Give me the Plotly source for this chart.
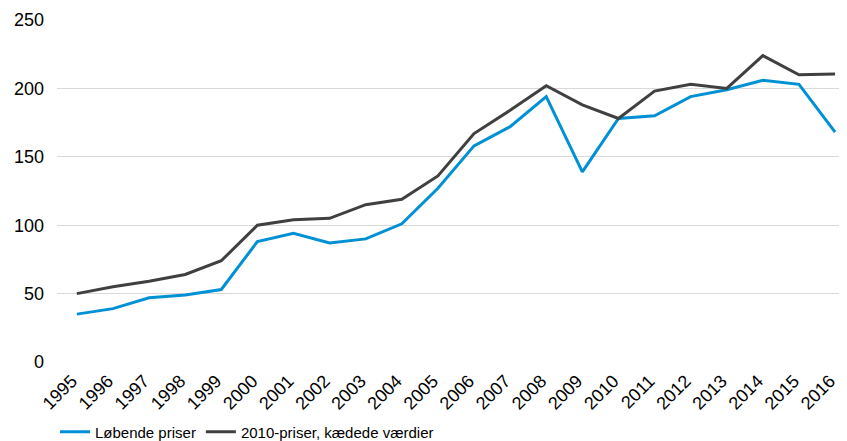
import plotly.graph_objects as go

# Data
years = list(range(1995, 2017))
loebende = [35, 39, 47, 49, 53, 88, 94, 87, 90, 101, 127, 158, 172, 194, 139,
            178, 180, 194, 199, 206, 203, 168]
kaedede = [50, 55, 59, 64, 74, 100, 104, 105, 115, 119, 136, 167, 184, 202, 188,
           178, 198, 203, 200, 224, 210, 210.5]
y_ticks = [0, 50, 100, 150, 200, 250]

fig = go.Figure()
fig.add_trace(go.Scatter(x=years, y=loebende, mode="lines", name="Løbende priser",
                         line=dict(color="#0091d5", width=3)))
fig.add_trace(go.Scatter(x=years, y=kaedede, mode="lines",
                         name="2010-priser, kædede værdier",
                         line=dict(color="#404040", width=3)))

# page body has an 8px margin, so the figure is a bit smaller than the window
fig.update_layout(
    width=839, height=433,
    margin=dict(l=49, r=0, t=12, b=79, autoexpand=False),
    plot_bgcolor="white", paper_bgcolor="white",
    font=dict(family="Liberation Sans, Arial", size=18, color="#000000"),
    showlegend=True,
    legend=dict(orientation="h", x=0.056, xref="container", xanchor="left",
                y=0.021, yref="container", yanchor="middle",
                font=dict(size=15), itemwidth=30, tracegroupgap=0),
    xaxis=dict(range=[1994.45, 2016.33], tickvals=years, ticktext=[str(y) for y in years],
               tickangle=-45, showgrid=False, zeroline=False, showline=False, ticks="",
               automargin=False, ticklabelshift=-5, ticklabelstandoff=4),
    yaxis=dict(range=[0, 250], tickvals=y_ticks, showgrid=True, gridcolor="#d9d9d9",
               gridwidth=1, zeroline=False, showline=False, ticks="",
               ticklabelstandoff=12, automargin=False),
)

fig.write_html("out.html")
